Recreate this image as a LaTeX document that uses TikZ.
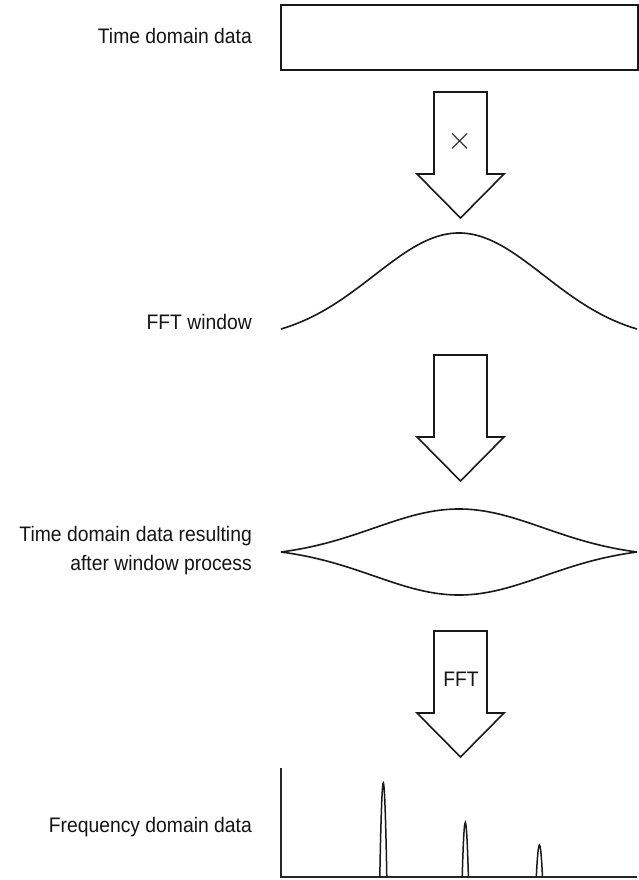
\documentclass[tikz,border=0pt]{standalone}
\usepackage{fontspec}
\setmainfont{Liberation Sans}[FakeStretch=0.92]
\begin{document}
\begin{tikzpicture}[x=1pt,y=-1pt,line join=miter,
  lbl/.style={font=\fontsize{21}{25}\selectfont, anchor=base east, inner sep=0pt, text=black!92},
  ln/.style={line width=1.6pt, draw=black!90},
  axisln/.style={line width=1.1pt, draw=black!85},
  pk/.style={line width=1.5pt, draw=black!90},
  blockarr/.pic={\draw[ln] (-26.5,0) -- (26.5,0) -- (26.5,82) -- (43.5,82) -- (0,126) -- (-43.5,82) -- (-26.5,82) -- cycle;}]
\useasboundingbox (0,0) rectangle (639,880);

% Time domain data
\node[lbl] (t1) at (252,44) {Time domain data};
\node[ln, draw, minimum width=357pt, minimum height=65pt, inner sep=0pt, anchor=north west] (rect) at (280,4) {};

% arrow 1 with multiply sign
\coordinate (a1) at (460.5,92);
\pic at (a1) {blockarr};
\node[inner sep=0pt, text=black!85, font=\fontsize{24.88}{28}\selectfont, scale=1.3] (mul) at (460.5,141) {$\times$};

% FFT window
\node[lbl] (t2) at (252,329) {FFT window};
\draw[ln] plot[domain=-178:178, samples=121, smooth] ({459+\x}, {329 - 96*(exp(-0.5*(\x/85)^2)-0.1116)/0.8884});

% arrow 2
\coordinate (a2) at (460.5,355);
\pic at (a2) {blockarr};

% windowed data
\node[lbl] (t3a) at (252,541) {Time domain data resulting};
\node[lbl] (t3b) at (252,570) {after window process};
\draw[ln] plot[domain=-178:178, samples=121, smooth] ({459+\x}, {552 - 43*(exp(-0.5*(\x/85)^2)-0.1116)/0.8884});
\draw[ln] plot[domain=-178:178, samples=121, smooth] ({459+\x}, {552 + 43*(exp(-0.5*(\x/85)^2)-0.1116)/0.8884});

% arrow 3 with FFT
\coordinate (a3) at (460.5,631);
\pic at (a3) {blockarr};
\node[inner sep=0pt, anchor=base, text=black!92, font=\fontsize{21}{25}\selectfont] (fft) at (461,686) {FFT};

% frequency domain
\node[lbl] (t4) at (252,832) {Frequency domain data};
\coordinate (ytop) at (281,768);
\coordinate (orig) at (281,877);
\coordinate (xend) at (637,877);
\draw[axisln] (ytop) -- (orig) -- (xend);
\draw[pk] (379.8,877) parabola bend (383.3,783) (386.8,877);
\draw[pk] (462.2,877) parabola bend (465.3,822.5) (468.4,877);
\draw[pk] (536.3,877) parabola bend (539.4,845) (542.5,877);
\end{tikzpicture}
\end{document}
